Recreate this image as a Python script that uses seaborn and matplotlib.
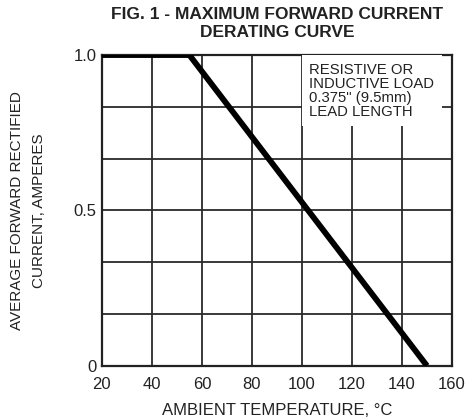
import matplotlib
matplotlib.use("Agg")
import matplotlib.pyplot as plt
import seaborn as sns
import pandas as pd

# Data
temperature = [20, 55, 150]
current = [1.0, 1.0, 0.0]
x_ticks = [20, 40, 60, 80, 100, 120, 140, 160]
y_ticks = [0, 1/6, 2/6, 0.5, 4/6, 5/6, 1.0]
y_tick_labels = ["0", "", "", "0.5", "", "", "1.0"]
title_text = "FIG. 1 - MAXIMUM FORWARD CURRENT\nDERATING CURVE"
x_label = "AMBIENT TEMPERATURE, \u00b0C"
y_label = "AVERAGE FORWARD RECTIFIED\nCURRENT, AMPERES"
note_text = "RESISTIVE OR\nINDUCTIVE LOAD\n0.375\" (9.5mm)\nLEAD LENGTH"

sns.set_style("white")
plt.rcParams["font.family"] = ["Liberation Sans", "DejaVu Sans"]

df = pd.DataFrame({"T": temperature, "I": current})

fig = plt.figure(figsize=(4.65, 4.20), dpi=100)
ax = fig.add_axes([0.219, 0.129, 0.753, 0.740])

sns.lineplot(data=df, x="T", y="I", ax=ax, color="black", linewidth=4.2,
             solid_capstyle="butt", zorder=5)

ax.set_xlim(20, 160)
ax.set_ylim(0, 1.0)
ax.set_xticks(x_ticks)
ax.set_xticklabels([str(v) for v in x_ticks])
ax.set_yticks(y_ticks)
ax.set_yticklabels(y_tick_labels)
ax.tick_params(axis="x", length=0, labelsize=12, colors="#222222", pad=8)
ax.tick_params(axis="y", length=0, labelsize=12, colors="#222222", pad=4)
ax.grid(True, color="#2a2a2a", linewidth=1.3)
for s in ax.spines.values():
    s.set_color("#222222")
    s.set_linewidth(1.6)

ax.set_xlabel(x_label, fontsize=12, color="#222222", labelpad=8)
ax.set_ylabel(y_label, fontsize=11, color="#222222", labelpad=20, linespacing=1.65)
ax.set_title(title_text, fontsize=12.5, fontweight="bold", color="#222222", pad=13,
             linespacing=1.25)

ax.text(0.592, 0.975, note_text, transform=ax.transAxes, ha="left", va="top",
        fontsize=10.7, color="#222222", linespacing=1.0, zorder=4,
        bbox=dict(facecolor="white", edgecolor="none", boxstyle="square,pad=0.5"))

fig.savefig("out.png", dpi=100)
